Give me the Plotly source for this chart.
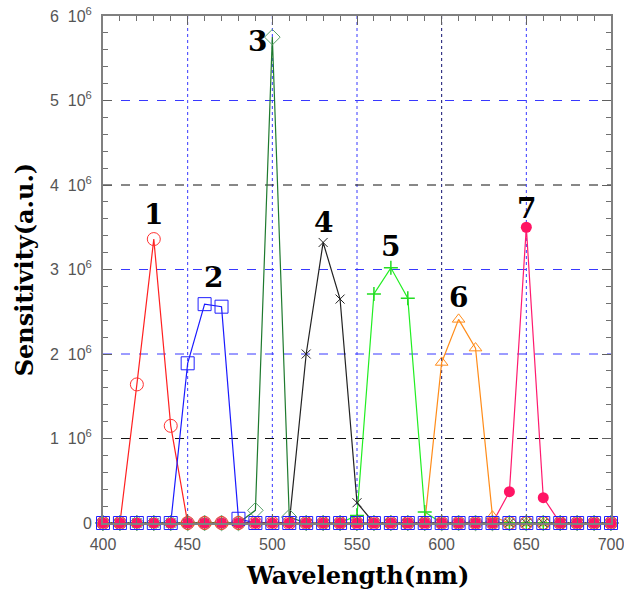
import plotly.graph_objects as go

wavelength = list(range(400, 701, 10))

def series(nonzero):
    return [nonzero.get(w, 0.0) for w in wavelength]

s1 = series({420: 1.64e6, 430: 3.36e6, 440: 1.15e6})
s2 = series({450: 1.89e6, 460: 2.59e6, 470: 2.56e6, 480: 0.05e6})
s3 = series({490: 0.15e6, 500: 5.75e6, 510: 0.07e6})
s4 = series({520: 2.0e6, 530: 3.32e6, 540: 2.65e6, 550: 0.24e6})
s5 = series({550: 0.09e6, 560: 2.71e6, 570: 3.02e6, 580: 2.66e6, 590: 0.13e6})
s6 = series({600: 1.9e6, 610: 2.41e6, 620: 2.07e6, 630: 0.08e6})
s7 = series({640: 0.37e6, 650: 3.5e6, 660: 0.3e6})

labels = ["1", "2", "3", "4", "5", "6", "7"]
label_x = [430, 465, 491, 530, 570, 610, 650]
label_y = [3.65e6, 2.9e6, 5.7e6, 3.56e6, 3.27e6, 2.67e6, 3.72e6]

y_ticks = [0, 1e6, 2e6, 3e6, 4e6, 5e6, 6e6]
y_ticktext = ["0", "1  10<sup>6</sup>", "2  10<sup>6</sup>", "3  10<sup>6</sup>",
              "4  10<sup>6</sup>", "5  10<sup>6</sup>", "6  10<sup>6</sup>"]
x_ticks = [400, 450, 500, 550, 600, 650, 700]

styles = {
    "1": dict(data=s1, line="#ff2020", marker=dict(symbol="circle-open", size=13, color="#ff3030", line=dict(width=1))),
    "2": dict(data=s2, line="#1a1aff", marker=dict(symbol="square-open", size=13, color="#2020ff", line=dict(width=1))),
    "3": dict(data=s3, line="#1e7a2e", marker=dict(symbol="diamond-open", size=12, color="#5aa06a", line=dict(width=1))),
    "4": dict(data=s4, line="#222222", marker=dict(symbol="x-thin-open", size=9, color="#222222", line=dict(width=1))),
    "5": dict(data=s5, line="#22ee22", marker=dict(symbol="cross-thin-open", size=10, color="#22dd22", line=dict(width=1.5))),
    "6": dict(data=s6, line="#ff8c1a", marker=dict(symbol="triangle-up-open", size=11, color="#ff8c1a", line=dict(width=1))),
    "7": dict(data=s7, line="#ff1a6e", marker=dict(symbol="circle", size=11, color="#ff1464", line=dict(width=0))),
}

fig = go.Figure()

for key in ["1", "2", "3", "5", "6", "7", "4"]:
    st = styles[key]
    fig.add_trace(go.Scatter(x=wavelength, y=st["data"], mode="lines",
                             line=dict(color=st["line"], width=1.2),
                             showlegend=False, cliponaxis=False, hoverinfo="skip"))
for key in ["3", "6", "5", "4", "1", "2", "7"]:
    st = styles[key]
    fig.add_trace(go.Scatter(x=wavelength, y=st["data"], mode="markers",
                             marker=st["marker"], showlegend=False, cliponaxis=False))

for t, lx, ly in zip(labels, label_x, label_y):
    fig.add_annotation(x=lx, y=ly, text="<b>%s</b>" % t, showarrow=False,
                       font=dict(family="DejaVu Serif", size=28, color="black"))

vgrid_col = {450: "#3838ff", 500: "#3838ff", 550: "#3838ff", 600: "#101070", 650: "#3838ff"}
for xv in x_ticks[1:-1]:
    fig.add_shape(type="line", x0=xv, x1=xv, y0=y_ticks[0], y1=y_ticks[-1], xref="x", yref="y",
                  line=dict(color=vgrid_col[xv], width=1, dash="dot"), layer="below")
hgrid_col = {1e6: "#111111", 2e6: "#3838ff", 3e6: "#3838ff", 4e6: "#111111", 5e6: "#3838ff"}
for yv in y_ticks[1:-1]:
    fig.add_shape(type="line", x0=x_ticks[0], x1=x_ticks[-1], y0=yv, y1=yv, xref="x", yref="y",
                  line=dict(color=hgrid_col[yv], width=1, dash="dash"), layer="below")

fig.add_annotation(xref="paper", yref="paper", x=-0.154, y=0.5, xanchor="center", yanchor="middle",
                   textangle=-90, text="<b>Sensitivity(a.u.)</b>", showarrow=False,
                   font=dict(family="DejaVu Serif", size=24, color="black"))
fig.add_annotation(xref="paper", yref="paper", x=0.5, y=-0.1026, xanchor="center", yanchor="middle",
                   text="<b>Wavelength(nm)</b>", showarrow=False,
                   font=dict(family="DejaVu Serif", size=24, color="black"))

axis_common = dict(showgrid=False, zeroline=False, showline=True, linecolor="#808080", linewidth=2,
                   mirror="ticks", ticks="inside", ticklen=9, tickcolor="#606060", tickwidth=1,
                   automargin=False, ticklabeloverflow="allow",
                   tickfont=dict(family="Liberation Sans", size=16, color="#555555"))

fig.update_layout(
    width=624, height=597,
    margin=dict(l=103, r=13, t=16, b=74),
    paper_bgcolor="white", plot_bgcolor="white",
    xaxis=dict(range=[400, 700], tickvals=x_ticks, ticktext=[str(v) for v in x_ticks],
               ticklabelstandoff=6,
               minor=dict(dtick=10, ticks="inside", ticklen=5, tickcolor="#707070"),
               **axis_common),
    yaxis=dict(range=[0, 6e6], tickvals=y_ticks, ticktext=y_ticktext,
               ticklabelstandoff=6,
               minor=dict(dtick=2e5, ticks="inside", ticklen=5, tickcolor="#707070"),
               **axis_common),
)

fig.write_html("out.html")
